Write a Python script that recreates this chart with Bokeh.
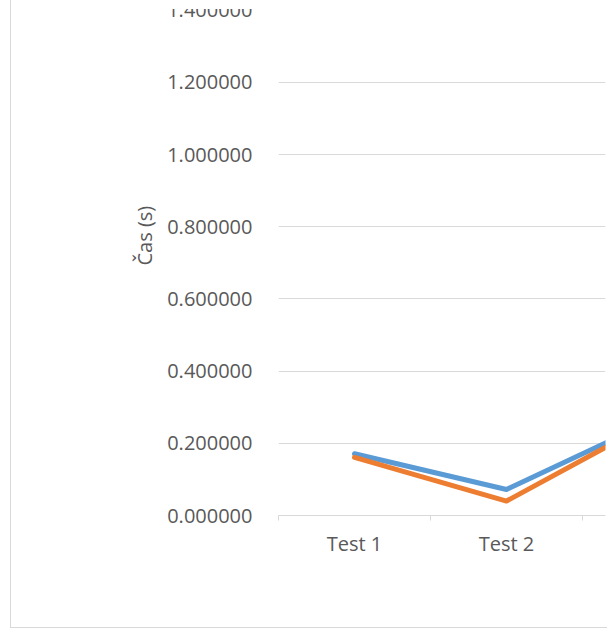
import math
from bokeh.plotting import figure
from bokeh.models import Range1d, FixedTicker, PrintfTickFormatter, Title, InlineStyleSheet
from bokeh.embed import file_html
from bokeh.resources import INLINE

# ---- data ----
categories = ["Test 1", "Test 2", "Test 3"]
series_blue = [0.171, 0.072, 0.270]
series_orange = [0.161, 0.040, 0.268]
y_ticks = [0.0, 0.2, 0.4, 0.6, 0.8, 1.0, 1.2, 1.4]
y_title = "Čas (s)"

FONT = "Open Sans"
TXT = "#595959"
GRID = "#d9d9d9"

x_pos = [i + 0.5 for i in range(len(categories))]

p = figure(width=597, height=628, output_backend="svg", toolbar_location=None,
           x_range=Range1d(0, 327 / 152), y_range=Range1d(0, 506 / 361),
           min_border_left=267, min_border_right=3, min_border_top=9,
           min_border_bottom=113)
p.styles = {"border-left": "1px solid #d9d9d9", "border-bottom": "1px solid #d9d9d9",
            "margin-left": "10px", "margin-top": "0px"}
# the reference picture is cut off at its top: blank out the top strip
p.stylesheets = [InlineStyleSheet(css=(
    ":host { position: relative; }"
    ":host::after { content: ''; position: absolute; top: 0; left: 0; right: 0;"
    " height: 9px; background: white; z-index: 100; pointer-events: none; }"))]
p.outline_line_color = None
p.background_fill_color = "white"
p.border_fill_color = "white"

p.line(x_pos, series_blue, line_color="#5B9BD5", line_width=5,
       line_cap="round", line_join="round")
p.line(x_pos, series_orange, line_color="#ED7D31", line_width=5,
       line_cap="round", line_join="round")

# x axis
xa = p.xaxis[0]
xa.ticker = FixedTicker(ticks=x_pos, minor_ticks=list(range(len(categories) + 1)))
xa.major_label_overrides = {x: c for x, c in zip(x_pos, categories)}
xa.major_tick_line_color = None
xa.major_tick_out = 0
xa.major_tick_in = 0
xa.minor_tick_line_color = GRID
xa.minor_tick_out = 5
xa.minor_tick_in = 0
xa.axis_line_color = GRID
xa.major_label_standoff = 9
xa.major_label_text_font = FONT
xa.major_label_text_font_size = "20px"
xa.major_label_text_color = TXT

# y axis
ya = p.yaxis[0]
ya.ticker = FixedTicker(ticks=y_ticks)
ya.formatter = PrintfTickFormatter(format="%.6f")
ya.axis_line_color = None
ya.major_tick_line_color = None
ya.minor_tick_line_color = None
ya.major_tick_out = 0
ya.major_tick_in = 0
ya.major_label_standoff = 26
ya.major_label_text_font = FONT
ya.major_label_text_font_size = "20px"
ya.major_label_text_color = TXT

p.xgrid.grid_line_color = None
p.ygrid.ticker = FixedTicker(ticks=y_ticks[:-1])
p.ygrid.grid_line_color = GRID
p.ygrid.grid_line_width = 1

t = Title(text=y_title, align="left", offset=250, text_font=FONT,
          text_font_size="20px", text_font_style="normal", text_color=TXT,
          standoff=14)
p.add_layout(t, "left")

open("out.html", "w").write(file_html(p, INLINE))
